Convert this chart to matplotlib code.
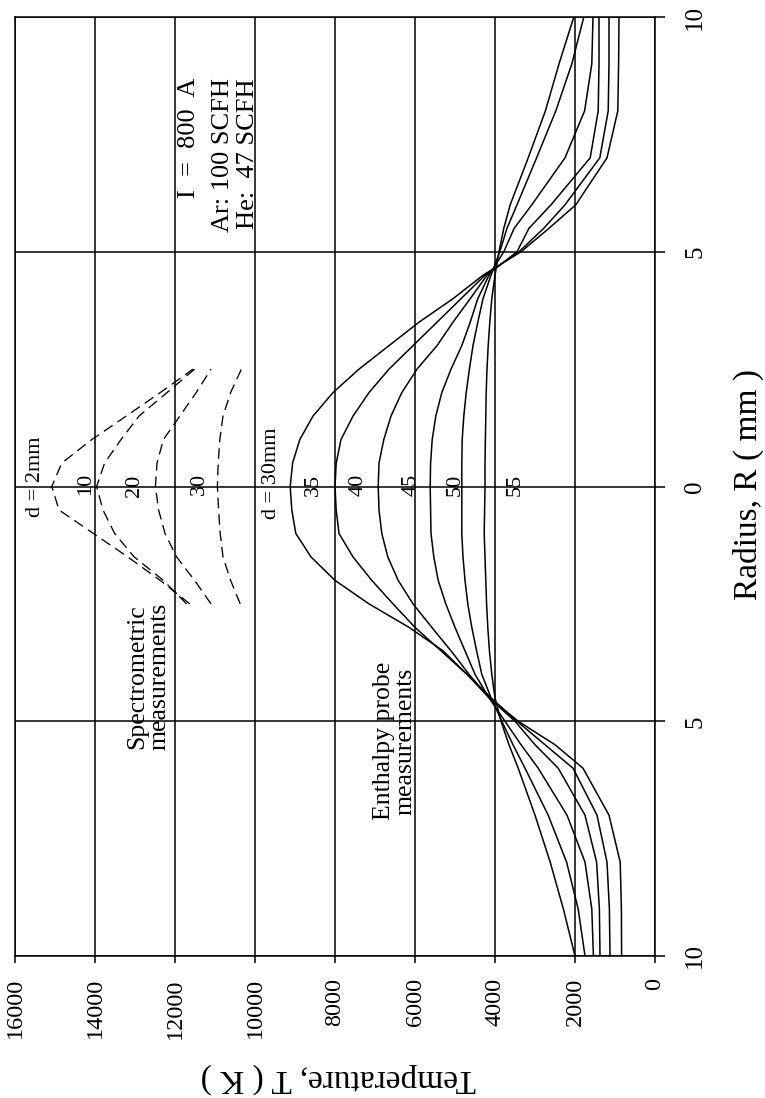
import matplotlib
matplotlib.use("Agg")
import matplotlib.pyplot as plt

plt.rcParams['font.family'] = ['Liberation Serif', 'DejaVu Serif']

# ---- data ----
R_probe = [-10, -9, -8, -7, -6, -5.5, -5, -4.5, -4, -3.5, -3, -2.5, -2, -1.5, -1, -0.5, 0,
           0.5, 1, 1.5, 2, 2.5, 3, 3.5, 4, 4.5, 5, 5.5, 6, 7, 8, 9, 10]
T_d30 = [835, 840, 870, 1150, 1800, 2500, 3420, 4150, 4700, 5300, 6150, 7150, 8000, 8600, 8980, 9080, 9120,
         9060, 8880, 8550, 8050, 7400, 6650, 5900, 5050, 4300, 3350, 2650, 1980, 1200, 930, 910, 900]
T_d35 = [1125, 1140, 1200, 1450, 2050, 2750, 3450, 4100, 4700, 5350, 6000, 6550, 7080, 7550, 7900, 7970, 8000,
         7970, 7850, 7550, 7150, 6650, 6050, 5450, 4850, 4250, 3400, 2780, 2250, 1380, 1170, 1150, 1150]
T_d40 = [1375, 1390, 1460, 1750, 2420, 3000, 3500, 4150, 4650, 5100, 5580, 6050, 6420, 6680, 6830, 6900, 6920,
         6900, 6780, 6600, 6330, 5950, 5450, 5050, 4620, 4200, 3450, 3150, 2600, 1620, 1420, 1400, 1400]
T_d45 = [1540, 1580, 1750, 2200, 2920, 3350, 3750, 4150, 4500, 4750, 5000, 5230, 5420, 5530, 5600, 5610, 5620,
         5610, 5570, 5480, 5330, 5100, 4830, 4620, 4430, 4150, 3780, 3520, 3080, 2250, 1760, 1580, 1550]
T_d50 = [1750, 1920, 2210, 2670, 3250, 3550, 3830, 4100, 4330, 4460, 4580, 4680, 4750, 4800, 4830, 4830, 4830,
         4830, 4820, 4780, 4720, 4640, 4550, 4430, 4300, 4100, 3880, 3700, 3450, 2960, 2480, 2080, 1780]
T_d55 = [2000, 2290, 2620, 3000, 3420, 3650, 3850, 4000, 4080, 4140, 4180, 4210, 4230, 4250, 4270, 4260, 4250,
         4250, 4240, 4230, 4220, 4200, 4170, 4130, 4080, 4000, 3900, 3780, 3620, 3170, 2740, 2400, 2030]

R_spec = [-2.5, -2, -1.5, -1, -0.5, 0, 0.5, 1, 1.5, 2, 2.5]
T_s2 = [11630, 12370, 13180, 14040, 14900, 15080, 14830, 14080, 13220, 12370, 11550]
T_s10 = [11710, 12290, 13020, 13510, 13800, 13960, 13760, 13350, 12900, 12200, 11510]
T_s20 = [11100, 11510, 11960, 12250, 12410, 12490, 12450, 12290, 11880, 11470, 11100]
T_s30 = [10370, 10610, 10800, 10870, 10910, 10940, 10920, 10880, 10800, 10610, 10340]

T_ticks = [0, 2000, 4000, 6000, 8000, 10000, 12000, 14000, 16000]
R_ticks = [-10, -5, 0, 5, 10]
R_ticklabels = ['10', '5', '0', '5', '10']

# ---- figure ----
W, H = 765, 1098
fig = plt.figure(figsize=(W / 100, H / 100), dpi=100)
ax = fig.add_axes([15 / W, 1 - 956 / H, 640 / W, 939 / H])
ax.set_xlim(16000, 0)
ax.set_ylim(-10, 10)

for T in (T_d30, T_d35, T_d40, T_d45, T_d50, T_d55):
    ax.plot(T, R_probe, color='black', lw=1.1)
for T in (T_s2, T_s10, T_s20, T_s30):
    ax.plot(T, R_spec, color='black', lw=0.95, ls=(0, (8, 4.5)))

ax.set_xticks(T_ticks)
ax.set_xticklabels([str(t) for t in T_ticks], rotation=90, fontsize=17.5)
ax.set_yticks(R_ticks)
ax.set_yticklabels(R_ticklabels, fontsize=18)
ax.yaxis.tick_right()
for lbl in ax.get_yticklabels():
    lbl.set_rotation(90)
    lbl.set_va('center')
ax.tick_params(axis='x', direction='out', length=5, width=1.1, pad=11, colors='black')
ax.tick_params(axis='y', direction='out', length=7, width=1.1, pad=14, colors='black')
ax.grid(True, color='black', lw=1.1)
for s in ax.spines.values():
    s.set_color('black')
    s.set_linewidth(1.1)


def px2data(x, y):
    return (655 - x) * 25.0, (487 - y) / 47.0


def txt(x, y, s, size=16, **kw):
    T, R = px2data(x, y)
    ax.text(T, R, s, rotation=90, fontsize=size, **kw)


# curve labels
txt(36, 477, 'd = 2mm', ha='center', va='center')
txt(86, 484, '10', ha='center', va='center')
txt(134, 486, '20', ha='center', va='center')
txt(199, 484, '30', ha='center', va='center')
txt(271, 474, 'd = 30mm', ha='center', va='center')
txt(313, 485, '35', ha='center', va='center')
txt(358, 485, '40', ha='center', va='center')
txt(411, 485, '45', ha='center', va='center')
txt(455, 485, '50', ha='center', va='center')
txt(515, 485, '55', ha='center', va='center')

# annotations
txt(189, 78, 'I  =  800  A', size=19, ha='center', va='top')
txt(223, 78, 'Ar: 100 SCFH', size=19, ha='center', va='top')
txt(248, 78, 'He:  47 SCFH', size=19, ha='center', va='top')
txt(148, 677, 'Spectrometric\nmeasurements', size=18.5, ha='center', va='center',
    multialignment='center', linespacing=1.0)
txt(395, 742, 'Enthalpy probe\nmeasurements', size=18.5, ha='center', va='center',
    multialignment='center', linespacing=1.0)

fig.text(748 / W, 1 - 484 / H, 'Radius, R ( mm )', rotation=90, fontsize=24,
         ha='center', va='center')
fig.text(338 / W, 1 - 1078 / H, 'Temperature, T ( K )', rotation=180, fontsize=24,
         ha='center', va='center')

fig.savefig('out.png', dpi=100, facecolor='white')
